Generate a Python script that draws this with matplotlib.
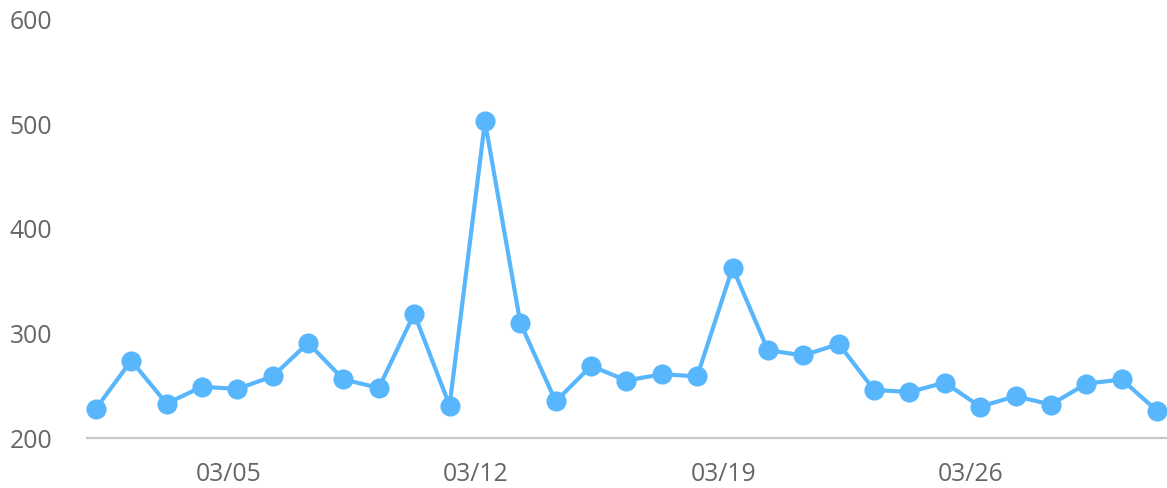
import matplotlib.pyplot as plt

plt.rcParams['font.family'] = ['Open Sans', 'DejaVu Sans']

days = list(range(1, 32))
values = [228, 274, 233, 249, 247, 259, 291, 256, 248, 319, 231, 503, 310, 235, 269,
          255, 261, 259, 363, 284, 279, 290, 246, 244, 253, 230, 240, 232, 252, 256, 226]
tick_days = [5, 12, 19, 26]
tick_labels = ['03/05', '03/12', '03/19', '03/26']
y_ticks = [200, 300, 400, 500, 600]

W, H = 1167, 488
fig = plt.figure(figsize=(W / 100, H / 100), dpi=100)
ax = fig.add_axes([87 / W, (H - 438) / H, (W - 87) / W, (438 - 20) / H])

x = [d - 1 for d in days]
ax.plot(x, values, color='#58b6fd', linewidth=3, marker='o', markersize=13.5,
        solid_joinstyle='round', clip_on=False, zorder=3)

ax.set_xlim(-0.25, 30.28)
ax.set_ylim(200, 600)
ax.set_xticks([d - 1 - 0.26 for d in tick_days])
ax.set_xticklabels(tick_labels)
ax.set_yticks(y_ticks)

for s in ['top', 'right', 'left']:
    ax.spines[s].set_visible(False)
ax.spines['bottom'].set_color('#c8c8c8')
ax.spines['bottom'].set_linewidth(1.6)

ax.tick_params(axis='both', length=0, labelsize=17.8, labelcolor='#666666')
ax.tick_params(axis='x', pad=17)
ax.tick_params(axis='y', pad=25)

fig.savefig('out.png', dpi=100)
